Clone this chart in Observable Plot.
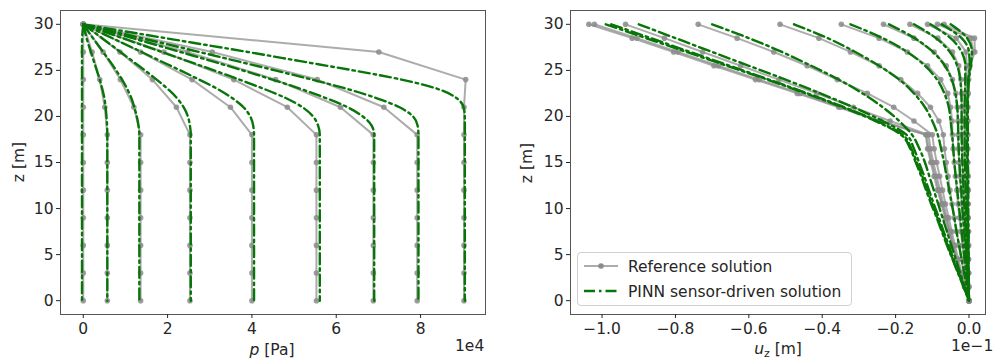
<!DOCTYPE html>
<html><head><meta charset="utf-8">
<script src="https://cdn.jsdelivr.net/npm/d3@7"></script>
<script src="https://cdn.jsdelivr.net/npm/@observablehq/plot@0.6"></script>
<style>
body{margin:0;background:#fff;}
#wrap{position:relative;width:994px;height:360px;font-family:"DejaVu Sans",sans-serif;color:#262626;overflow:hidden;background:#fff;}
#wrap > svg{position:absolute;top:0;}
.lab{position:absolute;font-size:15.5px;white-space:nowrap;line-height:1;}
#legend{position:absolute;left:577px;top:252px;width:273px;height:52px;border:1px solid #d0d0d0;border-radius:4px;background:rgba(255,255,255,0.85);}
#legend .row{position:absolute;left:0;height:20px;}
#legend svg{position:absolute;left:5px;top:0;}
#legend span{position:absolute;left:50px;top:1px;font-size:15.5px;white-space:nowrap;}
</style></head><body><div id="wrap"></div><script>
// ---------- Left panel: pore pressure p (x 1e4 Pa) ----------
const zRefLeft = [30, 27, 24, 21, 18, 15, 12, 9, 6, 3, 0];
const pRef0 = [0, 0, 0, 0, 0, 0, 0, 0, 0, 0, 0];
const pRef1 = [0, 0.21, 0.39, 0.51, 0.57, 0.57, 0.57, 0.57, 0.57, 0.57, 0.57];
const pRef2 = [0, 0.47, 0.88, 1.20, 1.36, 1.36, 1.36, 1.36, 1.36, 1.36, 1.36];
const pRef3 = [0, 0.87, 1.64, 2.21, 2.53, 2.53, 2.53, 2.53, 2.53, 2.53, 2.53];
const pRef4 = [0, 1.36, 2.58, 3.49, 4.00, 4.00, 4.00, 4.00, 4.00, 4.00, 4.00];
const pRef5 = [0, 1.91, 3.57, 4.84, 5.53, 5.53, 5.53, 5.53, 5.53, 5.53, 5.53];
const pRef6 = [0, 2.47, 4.56, 6.10, 6.88, 6.88, 6.88, 6.88, 6.88, 6.88, 6.88];
const pRef7 = [0, 3.06, 5.55, 7.13, 7.92, 7.92, 7.92, 7.92, 7.92, 7.92, 7.92];
const pRef8 = [0, 7.01, 9.07, 9.03, 9.03, 9.03, 9.03, 9.03, 9.03, 9.03, 9.03];
const pRefCurves = [pRef0, pRef1, pRef2, pRef3, pRef4, pRef5, pRef6, pRef7, pRef8];

const zPinnLeft = [30, 29, 28, 27, 26, 25, 24, 23, 22, 21, 20, 19, 18, 0];
const pPinn0 = [0, -0.02, -0.03, -0.03, -0.03, -0.03, -0.03, -0.03, -0.03, -0.03, -0.03, -0.03, -0.03, -0.03];
const pPinn1 = [0, 0.05, 0.11, 0.18, 0.25, 0.32, 0.39, 0.45, 0.50, 0.53, 0.55, 0.565, 0.57, 0.57];
const pPinn2 = [0, 0.15, 0.31, 0.47, 0.63, 0.78, 0.92, 1.04, 1.14, 1.21, 1.27, 1.31, 1.33, 1.33];
const pPinn3 = [0, 0.30, 0.59, 0.88, 1.17, 1.46, 1.74, 2.00, 2.22, 2.38, 2.48, 2.53, 2.55, 2.55];
const pPinn4 = [0, 0.46, 0.92, 1.38, 1.84, 2.30, 2.75, 3.18, 3.53, 3.80, 3.96, 4.03, 4.05, 4.05];
const pPinn5 = [0, 0.62, 1.24, 1.86, 2.48, 3.10, 3.70, 4.28, 4.80, 5.20, 5.45, 5.57, 5.61, 5.61];
const pPinn6 = [0, 0.78, 1.55, 2.30, 3.05, 3.78, 4.48, 5.15, 5.75, 6.27, 6.63, 6.84, 6.90, 6.90];
const pPinn7 = [0, 0.92, 1.84, 2.75, 3.65, 4.55, 5.42, 6.25, 6.95, 7.50, 7.82, 7.93, 7.95, 7.95];
const pPinn8 = [0, 1.30, 2.60, 3.90, 5.15, 6.40, 7.55, 8.40, 8.85, 9.02, 9.05, 9.05, 9.05, 9.05];
const pPinnCurves = [pPinn0, pPinn1, pPinn2, pPinn3, pPinn4, pPinn5, pPinn6, pPinn7, pPinn8];

const pTicks = [0, 2, 4, 6, 8];
const zTicks = [0, 5, 10, 15, 20, 25, 30];

// ---------- Right panel: vertical displacement u_z (x 1e-1 m) ----------
const zRight = [30, 28.5, 27, 25.5, 24, 22.5, 21, 19.5, 18, 16.5, 15, 13.5, 12, 10.5, 9, 7.5, 6, 4.5, 3, 1.5, 0];
const uRef0 = [-1.036,-0.918,-0.805,-0.695,-0.582,-0.468,-0.355,-0.245,-0.118,-0.113,-0.104,-0.095,-0.086,-0.075,-0.065,-0.055,-0.045,-0.035,-0.024,-0.012,0];
const uRef1 = [-1.021,-0.905,-0.793,-0.683,-0.572,-0.460,-0.350,-0.240,-0.115,-0.110,-0.101,-0.092,-0.083,-0.073,-0.063,-0.053,-0.044,-0.034,-0.023,-0.012,0];
const uRef2 = [-0.936,-0.830,-0.726,-0.622,-0.518,-0.415,-0.315,-0.215,-0.110,-0.105,-0.097,-0.088,-0.079,-0.070,-0.060,-0.051,-0.042,-0.032,-0.022,-0.011,0];
const uRef3 = [-0.738,-0.632,-0.532,-0.441,-0.359,-0.277,-0.205,-0.150,-0.100,-0.095,-0.088,-0.080,-0.072,-0.064,-0.055,-0.047,-0.038,-0.029,-0.020,-0.010,0];
const uRef4 = [-0.515,-0.409,-0.323,-0.245,-0.186,-0.140,-0.105,-0.082,-0.070,-0.067,-0.062,-0.057,-0.052,-0.046,-0.040,-0.034,-0.027,-0.021,-0.014,-0.007,0];
const uRef5 = [-0.348,-0.245,-0.168,-0.113,-0.077,-0.058,-0.050,-0.046,-0.045,-0.043,-0.040,-0.037,-0.033,-0.030,-0.026,-0.022,-0.018,-0.013,-0.009,-0.004,0];
const uRef6 = [-0.233,-0.150,-0.095,-0.062,-0.045,-0.036,-0.032,-0.030,-0.030,-0.029,-0.027,-0.025,-0.022,-0.020,-0.017,-0.014,-0.012,-0.009,-0.006,-0.003,0];
const uRef7 = [-0.161,-0.085,-0.045,-0.028,-0.022,-0.020,-0.020,-0.020,-0.020,-0.019,-0.018,-0.016,-0.015,-0.013,-0.011,-0.009,-0.008,-0.006,-0.004,-0.002,0];
const uRef8 = [-0.113,-0.035,-0.008,-0.006,-0.009,-0.011,-0.012,-0.012,-0.012,-0.012,-0.011,-0.010,-0.009,-0.008,-0.007,-0.006,-0.005,-0.004,-0.002,-0.001,0];
const uRef9 = [-0.086,0.005,0.012,0.000,-0.004,-0.005,-0.006,-0.006,-0.006,-0.006,-0.005,-0.005,-0.004,-0.004,-0.003,-0.003,-0.002,-0.002,-0.001,-0.001,0];
const uRef10 = [-0.068,0.015,0.016,0.003,-0.001,-0.002,-0.003,-0.003,-0.003,-0.003,-0.003,-0.002,-0.002,-0.002,-0.002,-0.001,-0.001,-0.001,-0.001,0,0];
const uRefCurves = [uRef0,uRef1,uRef2,uRef3,uRef4,uRef5,uRef6,uRef7,uRef8,uRef9,uRef10];

const uPinn0 = [-0.990,-0.880,-0.770,-0.660,-0.550,-0.445,-0.345,-0.255,-0.185,-0.160,-0.145,-0.130,-0.117,-0.103,-0.088,-0.074,-0.060,-0.045,-0.030,-0.015,0];
const uPinn1 = [-0.975,-0.867,-0.760,-0.652,-0.545,-0.440,-0.340,-0.250,-0.180,-0.157,-0.142,-0.127,-0.114,-0.100,-0.086,-0.072,-0.058,-0.044,-0.029,-0.014,0];
const uPinn2 = [-0.900,-0.800,-0.700,-0.600,-0.500,-0.405,-0.315,-0.235,-0.170,-0.150,-0.136,-0.122,-0.109,-0.096,-0.082,-0.069,-0.055,-0.042,-0.028,-0.014,0];
const uPinn3 = [-0.700,-0.600,-0.510,-0.430,-0.355,-0.290,-0.235,-0.190,-0.155,-0.135,-0.120,-0.108,-0.096,-0.084,-0.072,-0.060,-0.048,-0.036,-0.024,-0.012,0];
const uPinn4 = [-0.477,-0.385,-0.310,-0.245,-0.190,-0.150,-0.120,-0.100,-0.085,-0.076,-0.068,-0.061,-0.054,-0.047,-0.040,-0.034,-0.027,-0.020,-0.013,-0.007,0];
const uPinn5 = [-0.323,-0.235,-0.168,-0.120,-0.087,-0.067,-0.055,-0.050,-0.046,-0.043,-0.040,-0.036,-0.032,-0.028,-0.024,-0.020,-0.016,-0.012,-0.008,-0.004,0];
const uPinn6 = [-0.218,-0.148,-0.098,-0.066,-0.047,-0.037,-0.032,-0.030,-0.029,-0.028,-0.026,-0.024,-0.021,-0.019,-0.016,-0.013,-0.011,-0.008,-0.005,-0.003,0];
const uPinn7 = [-0.150,-0.090,-0.052,-0.032,-0.024,-0.021,-0.020,-0.020,-0.020,-0.019,-0.018,-0.016,-0.015,-0.013,-0.011,-0.009,-0.008,-0.006,-0.004,-0.002,0];
const uPinn8 = [-0.105,-0.050,-0.020,-0.010,-0.010,-0.011,-0.012,-0.012,-0.012,-0.012,-0.011,-0.010,-0.009,-0.008,-0.007,-0.006,-0.005,-0.004,-0.002,-0.001,0];
const uPinn9 = [-0.075,-0.020,0.000,0.002,-0.002,-0.004,-0.005,-0.006,-0.006,-0.006,-0.005,-0.005,-0.004,-0.004,-0.003,-0.003,-0.002,-0.002,-0.001,-0.001,0];
const uPinn10 = [-0.050,-0.005,0.008,0.005,0.000,-0.002,-0.003,-0.003,-0.003,-0.003,-0.003,-0.002,-0.002,-0.002,-0.002,-0.001,-0.001,-0.001,-0.001,0,0];
const uPinnCurves = [uPinn0,uPinn1,uPinn2,uPinn3,uPinn4,uPinn5,uPinn6,uPinn7,uPinn8,uPinn9,uPinn10];

const uTicks = [-1.0, -0.8, -0.6, -0.4, -0.2, 0.0];

// ---------- build tables ----------
function table(curves, zs) {
  const out = [];
  curves.forEach((vals, k) => vals.forEach((v, i) => out.push({v, z: zs[i], k})));
  return out;
}
const leftRef = table(pRefCurves, zRefLeft);
const leftPinn = table(pPinnCurves, zPinnLeft);
const rightRef = table(uRefCurves, zRight);
const rightPinn = table(uPinnCurves, zRight);

const GRAY = "#8c8c8c";
const GREEN = "#077507";
const DASH = "11,4,2.5,4";
const fontStyle = {fontFamily: "DejaVu Sans, sans-serif", fontSize: "15.5px", color: "#262626", background: "transparent", overflow: "visible"};

function panel({width, marginLeft, xDomain, xTicks, xFormat, ref, pinn}) {
  return Plot.plot({
    width, height: 360,
    marginLeft, marginRight: 9, marginTop: 10, marginBottom: 46,
    style: fontStyle,
    x: {domain: xDomain},
    y: {domain: [-1.5, 31.5]},
    marks: [
      Plot.line(ref, {x: "v", y: "z", z: "k", stroke: GRAY, strokeOpacity: 0.72, strokeWidth: 2}),
      Plot.dot(ref, {x: "v", y: "z", r: 2.8, fill: GRAY, fillOpacity: 0.85}),
      Plot.line(pinn, {x: "v", y: "z", z: "k", stroke: GREEN, strokeWidth: 2.4, strokeDasharray: DASH, curve: "monotone-y"}),
      Plot.frame({stroke: "#555", strokeWidth: 1}),
      Plot.axisX({ticks: xTicks, tickFormat: xFormat, tickSize: 4, tickPadding: 4, label: null}),
      Plot.axisY({ticks: zTicks, tickFormat: d => String(d), tickSize: 4, tickPadding: 3, label: null})
    ]
  });
}

const wrap = document.getElementById("wrap");
const left = panel({width: 494, marginLeft: 60, xDomain: [-0.54, 9.54], xTicks: pTicks, xFormat: d => String(d), ref: leftRef, pinn: leftPinn});
left.style.left = "0px";
wrap.appendChild(left);
const right = panel({width: 500, marginLeft: 76, xDomain: [-1.086, 0.045], xTicks: uTicks, xFormat: d3.format(".1f"), ref: rightRef, pinn: rightPinn});
right.style.left = "494px";
wrap.appendChild(right);

function label(html, css) {
  const d = document.createElement("div");
  d.className = "lab";
  d.innerHTML = html;
  Object.assign(d.style, css);
  wrap.appendChild(d);
  return d;
}
// axis titles
label("<i>p</i> [Pa]", {left: "272px", top: "343px", transform: "translateX(-50%)"});
label("1e4", {left: "455px", top: "339px"});
label("<i>u</i><sub style='font-size:11px;vertical-align:-3px'>z</sub> [m]", {left: "778px", top: "342px", transform: "translateX(-50%)"});
label("1e\u22121", {left: "951px", top: "339px"});
label("z [m]", {left: "20px", top: "162px", transform: "translate(-50%,-50%) rotate(-90deg)"});
label("z [m]", {left: "528px", top: "163px", transform: "translate(-50%,-50%) rotate(-90deg)"});

// legend
const legend = document.createElement("div");
legend.id = "legend";
legend.innerHTML =
  `<div class="row" style="top:4px;width:270px">
     <svg width="40" height="20"><line x1="1" y1="9" x2="35" y2="9" stroke="${GRAY}" stroke-opacity="0.72" stroke-width="2"/><circle cx="18" cy="9" r="2.8" fill="${GRAY}"/></svg>
     <span>Reference solution</span></div>
   <div class="row" style="top:29px;width:270px">
     <svg width="40" height="20"><line x1="1" y1="9" x2="35" y2="9" stroke="${GREEN}" stroke-width="2.4" stroke-dasharray="${DASH}"/></svg>
     <span>PINN sensor-driven solution</span></div>`;
wrap.appendChild(legend);
</script></body></html>
